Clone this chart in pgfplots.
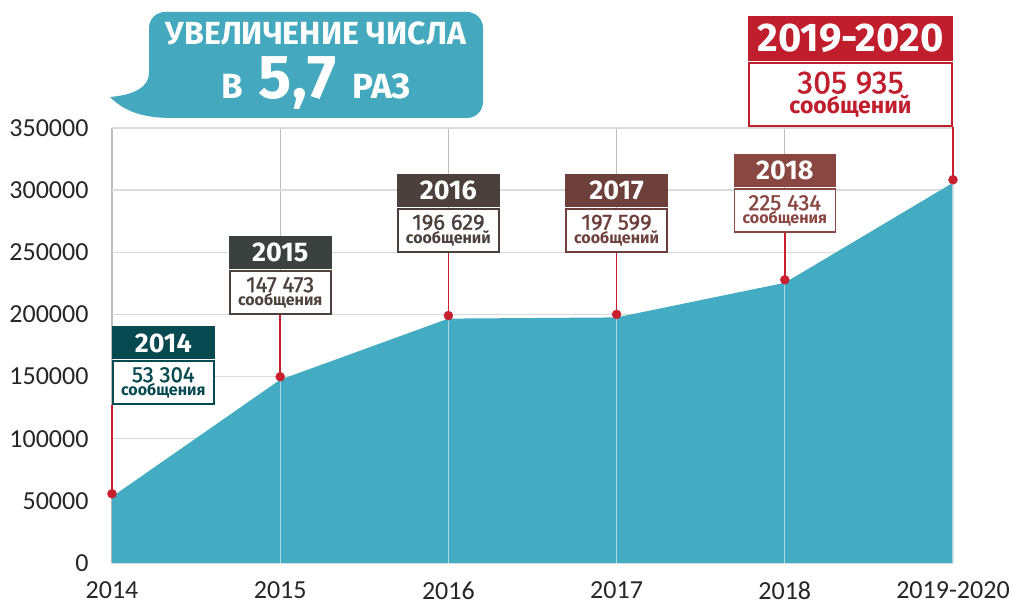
\documentclass[border=0pt]{standalone}
\usepackage{pgfplots}
\pgfplotsset{compat=1.18}
\usepackage{fontspec}
\setmainfont{Fira Sans}
\newfontfamily\firamed[FakeBold=1.2]{Fira Sans}
\newfontfamily\carlito{Carlito}

\definecolor{areacol}{HTML}{43ACC3}
\definecolor{gridh}{HTML}{DADADA}
\definecolor{gridv}{HTML}{BDBDBD}
\definecolor{redl}{HTML}{C8202F}
\definecolor{cA}{HTML}{074951}
\definecolor{cBh}{HTML}{3B413E}
\definecolor{cB}{HTML}{4E423D}
\definecolor{cC}{HTML}{4B403C}
\definecolor{cD}{HTML}{6E403B}
\definecolor{cE}{HTML}{8A4641}
\definecolor{cF}{HTML}{C11E2D}
\definecolor{callc}{HTML}{44A8BE}
\definecolor{ticktext}{HTML}{262626}

% #1 coordinate, #2 anchor, #3 header colour, #4 body colour, #5 year, #6 number, #7 word
\newcommand{\smallbox}[7]{%
  \node[draw=#4, line width=1.6pt, fill=white, text=#4, inner sep=0pt,
        minimum width=101pt, minimum height=43pt, align=center, anchor=#2]
        (body) at (#1) {\firamed\fontsize{22}{18}\selectfont #6\\\fontsize{16}{18}\selectfont\bfseries #7};
  \node[fill=#3, text=white, inner sep=0pt, minimum width=102.6pt, minimum height=33pt,
        anchor=south, font=\fontsize{27}{27}\selectfont\bfseries] at ([yshift=0.8pt]body.north) {#5};
}

\begin{document}
\begin{tikzpicture}[x=1pt,y=1pt]
\useasboundingbox (-112,-42) rectangle (900,563);
\begin{axis}[
  at={(0,0)}, anchor=south west,
  scale only axis, width=841pt, height=435pt,
  xmin=0, xmax=5, ymin=0, ymax=350000,
  clip=false,
  scaled y ticks=false,
  axis line style={draw=none},
  major tick length=0pt,
  xtick={0,1,2,3,4,5},
  xticklabels={2014,2015,2016,2017,2018,2019-2020},
  ytick={0,50000,100000,150000,200000,250000,300000,350000},
  yticklabels={0,50000,100000,150000,200000,250000,300000,350000},
  tick label style={font=\carlito\fontsize{26}{26}\selectfont, text=ticktext},
  yticklabel style={anchor=east, xshift=-20pt},
  xticklabel style={anchor=north, yshift=-15pt},
  xmajorgrids, ymajorgrids,
  x grid style={gridv, line width=1.2pt},
  y grid style={gridh, line width=1.5pt},
]
\addplot[fill=areacol, draw=none] coordinates {
  (0,53304) (1,147473) (2,196629) (3,197599) (4,225434) (5,305935)
} \closedcycle;
\addplot[ycomb, draw=white, opacity=0.55, line width=1.2pt, no marks] coordinates {
  (1,147473) (2,196629) (3,197599) (4,225434) (5,305935)
};
\draw[redl, line width=1.4pt] (axis cs:0,53304) -- (axis cs:0,127126);
\draw[redl, line width=1.4pt] (axis cs:1,147473) -- (axis cs:1,199540);
\draw[redl, line width=1.4pt] (axis cs:2,196629) -- (axis cs:2,249425);
\draw[redl, line width=1.4pt] (axis cs:3,197599) -- (axis cs:3,249425);
\draw[redl, line width=1.4pt] (axis cs:4,225434) -- (axis cs:4,265517);
\draw[redl, line width=1.4pt] (axis cs:5,305935) -- (axis cs:5,350805);
\addplot[only marks, mark=*, mark size=4.5pt, color=redl, mark options={yshift=3pt}] coordinates {
  (0,53304) (1,147473) (2,196629) (3,197599) (4,225434) (5,305935)
};
\coordinate (b0) at (axis cs:0,127126);
\coordinate (b1) at (axis cs:1,199540);
\coordinate (b2) at (axis cs:2,249425);
\coordinate (b3) at (axis cs:3,249425);
\coordinate (b4) at (axis cs:4,265517);
\coordinate (b5) at (axis cs:5,350805);
\end{axis}

\smallbox{b0}{south west}{cA}{cA}{2014}{53 304}{сообщения}
\smallbox{b1}{south}{cBh}{cB}{2015}{147 473}{сообщения}
\smallbox{b2}{south}{cC}{cC}{2016}{196 629}{сообщений}
\smallbox{b3}{south}{cD}{cD}{2017}{197 599}{сообщений}
\smallbox{b4}{south}{cE}{cE}{2018}{225 434}{сообщения}

% large 2019-2020 box
\node[draw=cF, line width=2pt, fill=white, text=cF, inner sep=0pt,
      minimum width=203pt, minimum height=63pt, align=center, anchor=south east]
      (big) at (b5) {\firamed\fontsize{32}{26}\selectfont 305 935\\\fontsize{23}{25}\selectfont\bfseries сообщений};
\node[fill=cF, text=white, inner sep=0pt, minimum width=205pt, minimum height=45pt,
      anchor=south, font=\fontsize{40}{40}\selectfont\bfseries] at ([yshift=1pt]big.north) {2019-2020};

% callout
\fill[callc] (37,490) [rounded corners=16pt] -- (37,551) -- (371,551) -- (371,445) [sharp corners] -- (60,445)
  .. controls (30,445) and (12,452) .. (-2,466)
  .. controls (22,468) and (37,476) .. (37,490) -- cycle;
\node[anchor=base, text=white, inner sep=0pt, font=\bfseries\fontsize{32}{32}\selectfont] at (204,518) {УВЕЛИЧЕНИЕ ЧИСЛА};
\node[anchor=base, text=white, inner sep=0pt, font=\bfseries] at (204,464)
  {\fontsize{35}{35}\selectfont В\hspace{16pt}\fontsize{62}{62}\selectfont 5,7\hspace{16pt}\fontsize{35}{35}\selectfont РАЗ};
\end{tikzpicture}
\end{document}
